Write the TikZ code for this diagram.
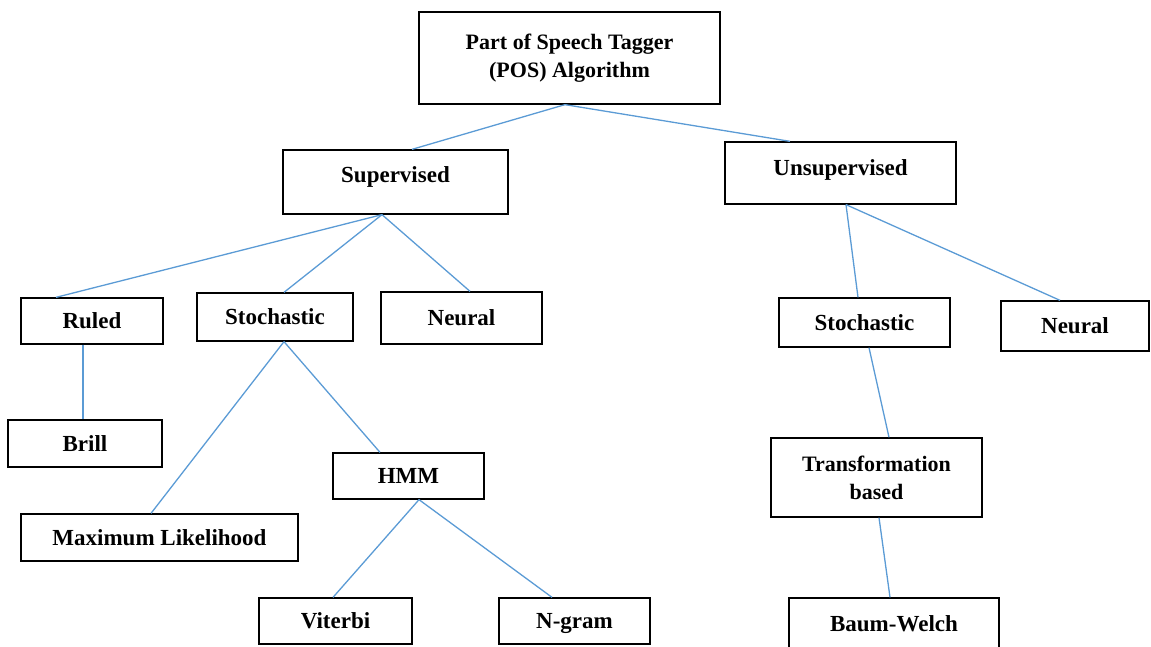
\documentclass[tikz,border=0pt]{standalone}
\usepackage{fontspec}
\setmainfont{Liberation Serif}
\definecolor{linkblue}{RGB}{91,155,213}
\begin{document}
\begin{tikzpicture}[x=1pt,y=-1pt,
	box/.style={draw,line width=1.3pt,inner sep=0pt,align=center,font=\bfseries\fontsize{23}{28}\selectfont},
	oneline/.style={box,text height=16pt,text depth=1pt},
	twoline/.style={box,font=\bfseries\fontsize{22}{28}\selectfont},
	link/.style={draw=linkblue,line width=1.3pt}]
	\useasboundingbox (0,0) rectangle (1151,647);
	\node[twoline,minimum width=301,minimum height=92] (pos) at (569.5,58) {Part of Speech Tagger\\(POS) Algorithm};
	\node[oneline,minimum width=225,minimum height=64] (sup) at (395.5,182) {\raisebox{7pt}[\height][\depth]{Supervised}};
	\node[oneline,minimum width=231,minimum height=62] (unsup) at (840.5,173) {\raisebox{5pt}[\height][\depth]{Unsupervised}};
	\node[oneline,minimum width=142,minimum height=46] (ruled) at (92,321) {Ruled};
	\node[oneline,minimum width=156,minimum height=48] (stochl) at (275,317) {Stochastic};
	\node[oneline,minimum width=161,minimum height=52] (neurl) at (461.5,318) {Neural};
	\node[oneline,minimum width=154,minimum height=47] (brill) at (85,443.5) {Brill};
	\node[oneline,minimum width=277,minimum height=47] (maxl) at (159.5,537.5) {Maximum Likelihood};
	\node[oneline,minimum width=151,minimum height=46] (hmm) at (408.5,476) {HMM};
	\node[oneline,minimum width=153,minimum height=46] (viterbi) at (335.5,621) {Viterbi};
	\node[oneline,minimum width=151,minimum height=46] (ngram) at (574.5,621) {N-gram};
	\node[oneline,minimum width=171,minimum height=49] (stochr) at (864.5,322.5) {Stochastic};
	\node[oneline,minimum width=148,minimum height=50] (neurr) at (1075,326) {Neural};
	\node[twoline,minimum width=211,minimum height=79] (trans) at (876.5,477.5) {Transformation\\based};
	\node[oneline,minimum width=210,minimum height=52] (baum) at (894,624) {Baum-Welch};
	\draw[link] ([xshift=-4.5pt]pos.south) -- ([xshift=16.5pt]sup.north);
	\draw[link] ([xshift=-4.5pt]pos.south) -- ([xshift=-50.5pt]unsup.north);
	\draw[link] ([xshift=-13.5pt]sup.south) -- ([xshift=-36pt]ruled.north);
	\draw[link] ([xshift=-13.5pt]sup.south) -- ([xshift=9pt]stochl.north);
	\draw[link] ([xshift=-13.5pt]sup.south) -- ([xshift=8.5pt]neurl.north);
	\draw[link] ([xshift=-9pt]ruled.south) -- ([xshift=-2pt]brill.north);
	\draw[link] ([xshift=9pt]stochl.south) -- ([xshift=-8.5pt]maxl.north);
	\draw[link] ([xshift=9pt]stochl.south) -- ([xshift=-28.5pt]hmm.north);
	\draw[link] ([xshift=10.5pt]hmm.south) -- ([xshift=-2.5pt]viterbi.north);
	\draw[link] ([xshift=10.5pt]hmm.south) -- ([xshift=-22.5pt]ngram.north);
	\draw[link] ([xshift=5.5pt]unsup.south) -- ([xshift=-6.5pt]stochr.north);
	\draw[link] ([xshift=5.5pt]unsup.south) -- ([xshift=-15pt]neurr.north);
	\draw[link] ([xshift=4.5pt]stochr.south) -- ([xshift=12.5pt]trans.north);
	\draw[link] ([xshift=2.5pt]trans.south) -- ([xshift=-4pt]baum.north);
\end{tikzpicture}
\end{document}
